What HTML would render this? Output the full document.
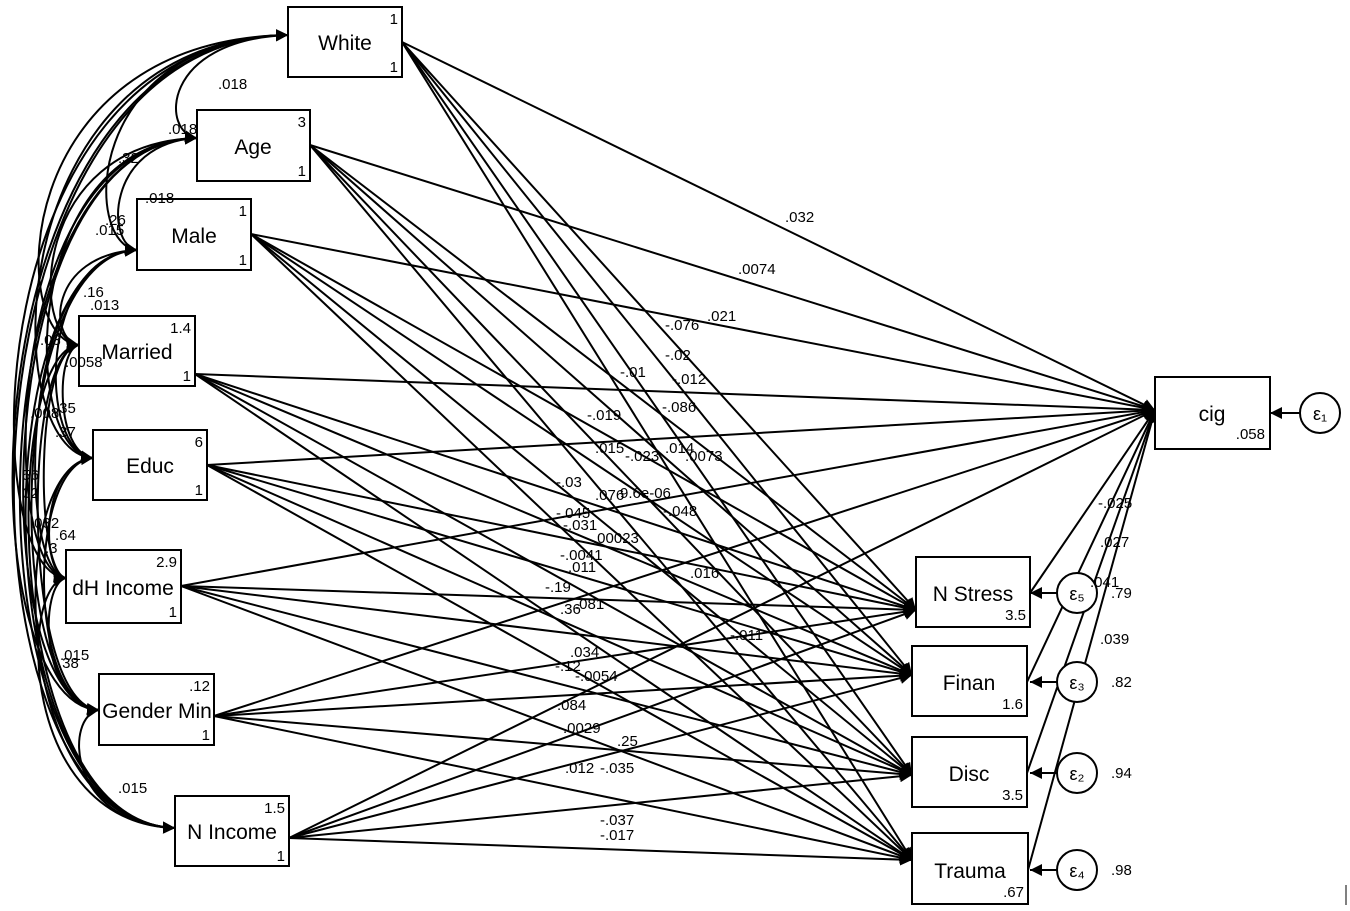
<!DOCTYPE html>
<html><head><meta charset="utf-8"><style>
body{margin:0;background:#fff}
svg{display:block}
text{font-family:"Liberation Sans",Arial,sans-serif;fill:#000}
.n{font-size:21px}
.s{font-size:15px}
.l{font-size:15px}
</style></head><body>
<svg id="g" width="1350" height="911" viewBox="0 0 1350 911" xmlns="http://www.w3.org/2000/svg">
<defs><marker id="a" viewBox="0 0 10 10" refX="10" refY="5" markerWidth="6" markerHeight="6" orient="auto-start-reverse"><path d="M0,0L10,5L0,10z" fill="#000"/></marker></defs>
<g id="lines" stroke="#000" stroke-width="2" fill="none"></g>
<g fill="#fff" stroke="#000" stroke-width="2">
<rect x="288" y="7" width="114" height="70"/>
<rect x="197" y="110" width="113" height="71"/>
<rect x="137" y="199" width="114" height="71"/>
<rect x="79" y="316" width="116" height="70"/>
<rect x="93" y="430" width="114" height="70"/>
<rect x="66" y="550" width="115" height="73"/>
<rect x="99" y="674" width="115" height="71"/>
<rect x="175" y="796" width="114" height="70"/>
<rect x="1155" y="377" width="115" height="72"/>
<rect x="916" y="557" width="114" height="70"/>
<rect x="912" y="646" width="115" height="70"/>
<rect x="912" y="737" width="115" height="70"/>
<rect x="912" y="833" width="116" height="71"/>
<circle cx="1320" cy="413" r="20"/>
<circle cx="1077" cy="593" r="20"/>
<circle cx="1077" cy="682" r="20"/>
<circle cx="1077" cy="773" r="20"/>
<circle cx="1077" cy="870" r="20"/>
</g>
<g class="n" text-anchor="middle">
<text x="345" y="50">White</text><text x="253" y="154">Age</text><text x="194" y="243">Male</text>
<text x="137" y="359">Married</text><text x="150" y="473">Educ</text><text x="123" y="595">dH Income</text>
<text x="157" y="718">Gender Min</text><text x="232" y="839">N Income</text><text x="1212" y="421">cig</text>
<text x="973" y="601">N Stress</text><text x="969" y="690">Finan</text><text x="969" y="781">Disc</text><text x="970" y="878">Trauma</text>
<text x="1320" y="420" font-size="18">ε₁</text><text x="1077" y="600" font-size="18">ε₅</text><text x="1077" y="689" font-size="18">ε₃</text><text x="1077" y="780" font-size="18">ε₂</text><text x="1077" y="877" font-size="18">ε₄</text>
</g>
<g class="s" text-anchor="end">
<text x="398" y="24">1</text><text x="398" y="72">1</text><text x="306" y="127">3</text><text x="306" y="176">1</text>
<text x="247" y="216">1</text><text x="247" y="265">1</text><text x="191" y="333">1.4</text><text x="191" y="381">1</text>
<text x="203" y="447">6</text><text x="203" y="495">1</text><text x="177" y="567">2.9</text><text x="177" y="617">1</text>
<text x="210" y="691">.12</text><text x="210" y="740">1</text><text x="285" y="813">1.5</text><text x="285" y="861">1</text>
<text x="1265" y="439">.058</text><text x="1026" y="620">3.5</text><text x="1023" y="709">1.6</text><text x="1023" y="800">3.5</text><text x="1024" y="897">.67</text>
</g>
<g class="l">
<text x="1111" y="598">.79</text><text x="1111" y="687">.82</text><text x="1111" y="778">.94</text><text x="1111" y="875">.98</text>
<text x="218" y="89">.018</text><text x="168" y="134">.018</text><text x="118" y="163">.32</text><text x="145" y="203">.018</text>
<text x="105" y="225">.26</text><text x="95" y="235">.015</text><text x="83" y="297">.16</text><text x="90" y="310">.013</text>
<text x="40" y="345">.03</text><text x="65" y="367">.0058</text><text x="55" y="413">.35</text><text x="30" y="418">.008</text>
<text x="55" y="437">.37</text><text x="18" y="480">.56</text><text x="18" y="498">.02</text><text x="30" y="528">.032</text>
<text x="55" y="540">.64</text><text x="45" y="553">.3</text><text x="60" y="660">.015</text><text x="58" y="668">.38</text>
<text x="118" y="793">.015</text>
<text x="785" y="222">.032</text><text x="738" y="274">.0074</text><text x="665" y="330">-.076</text><text x="707" y="321">.021</text>
<text x="665" y="360">-.02</text><text x="620" y="377">-.01</text><text x="672" y="384">-.012</text><text x="587" y="420">-.019</text>
<text x="662" y="412">-.086</text><text x="595" y="453">.015</text><text x="625" y="461">-.023</text><text x="665" y="453">.014</text>
<text x="685" y="461">.0073</text><text x="556" y="487">-.03</text><text x="595" y="500">.076</text><text x="620" y="498">9.6e-06</text>
<text x="556" y="518">-.045</text><text x="663" y="516">-.048</text><text x="563" y="530">-.031</text><text x="593" y="543">.00023</text>
<text x="560" y="560">-.0041</text><text x="568" y="572">.011</text><text x="690" y="578">.016</text><text x="545" y="592">-.19</text>
<text x="560" y="614">.36</text><text x="575" y="609">.081</text><text x="730" y="640">-.011</text><text x="570" y="657">.034</text>
<text x="555" y="671">-.12</text><text x="575" y="681">-.0054</text><text x="557" y="710">.084</text><text x="563" y="733">.0029</text>
<text x="617" y="746">.25</text><text x="565" y="773">.012</text><text x="600" y="773">-.035</text><text x="600" y="825">-.037</text>
<text x="600" y="840">-.017</text><text x="1098" y="508">-.025</text><text x="1100" y="547">.027</text><text x="1090" y="587">.041</text>
<text x="1100" y="644">.039</text>
</g>
<line x1="1346" y1="885" x2="1346" y2="905" stroke="#000"/>
</svg>
<script>
var g=document.getElementById('lines');
function P(d,m){var p=document.createElementNS('http://www.w3.org/2000/svg','path');p.setAttribute('d',d);if(m){p.setAttribute('marker-end','url(#a)');if(m==2)p.setAttribute('marker-start','url(#a)');}g.appendChild(p);}
var ex=[[402,42],[310,145],[251,234],[195,374],[207,465],[181,586],[214,716],[289,838]];
var lf=[[288,35],[197,138],[137,250],[79,345],[93,458],[66,578],[99,710],[175,828]];
var tg=[[1155,410],[916,610],[912,675],[912,775],[912,860]];
ex.forEach(function(e){tg.forEach(function(t){P('M'+e[0]+','+e[1]+'L'+t[0]+','+t[1],1);});});
for(var i=0;i<8;i++)for(var j=i+1;j<8;j++){var a=lf[i],b=lf[j];var m=(a[0]+b[0])/2;var mn=999;for(var k=i;k<=j;k++)mn=Math.min(mn,lf[k][0]);var X=mn-10-(j-i)*6;if(X<16)X=16;var cx=m+(X-m)/0.75;
P('M'+a[0]+','+a[1]+'C'+(cx)+','+(a[1]+5)+' '+cx+','+(b[1]-5)+' '+b[0]+','+b[1],2);}
[[1030,593],[1027,682],[1027,773],[1028,870]].forEach(function(m){P('M'+m[0]+','+m[1]+'L1155,410',1);});
P('M1300,413L1270,413',1);
[593,682,773,870].forEach(function(y){P('M1057,'+y+'L1030,'+y,1);});
</script>
</body></html>
